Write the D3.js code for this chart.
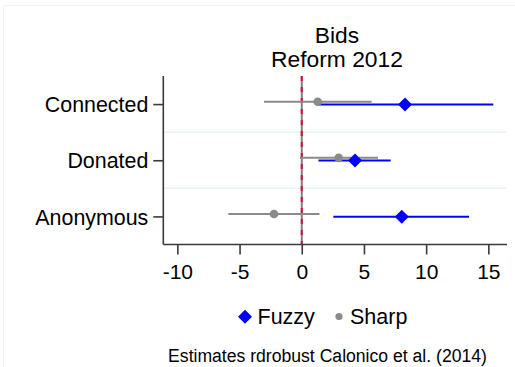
<!DOCTYPE html>
<html>
<head>
<meta charset="utf-8">
<script src="https://cdn.jsdelivr.net/npm/d3@7"></script>
<style>
  html, body { margin: 0; padding: 0; background: #fff; }
  svg { display: block; font-family: "Liberation Sans", Arial, sans-serif; }
</style>
</head>
<body>
<svg id="chart" width="515" height="367"></svg>
<script>
// Outcome groups (top to bottom)
const categories = ["Connected", "Donated", "Anonymous"];

// Fuzzy RD estimates with confidence bounds
const fuzzyEst = [8.3, 4.28, 8.04];
const fuzzyLo  = [1.34, 1.34, 2.54];
const fuzzyHi  = [15.4, 7.15, 13.45];

// Sharp RD estimates with confidence bounds
const sharpEst = [1.28, 2.97, -2.23];
const sharpLo  = [-3.03, -0.14, -5.9];
const sharpHi  = [5.62, 6.13, 1.42];

const xTicks = [-10, -5, 0, 5, 10, 15];
const titleLines = ["Bids", "Reform 2012"];
const legendLabels = ["Fuzzy", "Sharp"];
const note = "Estimates rdrobust Calonico et al. (2014)";

const svg = d3.select("#chart");
const plot = { left: 163.3, right: 507, top: 76, bottom: 244.5 };

const x = d3.scaleLinear().domain([-11.13, 16.5]).range([plot.left, plot.right]);
const y = d3.scalePoint().domain(categories).range([plot.top, plot.bottom]).padding(0.5);

const blue = "#0000ff", gray = "#8a8a8a", axisCol = "#3a3a3a";

// faint outer frame
svg.append("rect").attr("x", 3.5).attr("y", 5.5).attr("width", 520).attr("height", 400)
  .attr("fill", "none").attr("stroke", "#f2f2f2");

// separators between groups
const seps = categories.slice(0, -1).map((c, i) => (y(c) + y(categories[i + 1])) / 2);
svg.selectAll(".sep").data(seps).join("line")
  .attr("x1", plot.left).attr("x2", plot.right)
  .attr("y1", d => d).attr("y2", d => d)
  .attr("stroke", "#e8f1f2").attr("stroke-width", 1.5);

// zero reference line: gray base with red dashes
svg.append("line").attr("x1", x(0)).attr("x2", x(0)).attr("y1", plot.top).attr("y2", plot.bottom)
  .attr("stroke", "#808080").attr("stroke-width", 2);
svg.append("line").attr("x1", x(0)).attr("x2", x(0)).attr("y1", plot.top).attr("y2", plot.bottom)
  .attr("stroke", "#d0103a").attr("stroke-width", 2).attr("stroke-dasharray", "5,6");

// axes
const xAxis = svg.append("g").attr("transform", `translate(0,${plot.bottom})`)
  .call(d3.axisBottom(x).tickValues(xTicks).tickSize(10).tickPadding(10)
    .tickFormat(d => String(d)));
xAxis.select(".domain").attr("d", `M${plot.left},0H${plot.right}`);
const yAxis = svg.append("g").attr("transform", `translate(${plot.left},0)`)
  .call(d3.axisLeft(y).tickSize(10).tickPadding(5));
yAxis.select(".domain").attr("d", `M0,${plot.top}V${plot.bottom}`);

[xAxis, yAxis].forEach(g => {
  g.selectAll(".domain, .tick line").attr("stroke", axisCol).attr("stroke-width", 1.6);
  g.selectAll("text").attr("fill", "#000").style("font-family", "'Liberation Sans', Arial, sans-serif");
});
xAxis.selectAll("text").attr("font-size", 21);
yAxis.selectAll("text").attr("font-size", 21.4).attr("dy", "0.36em");

const fuzzy = categories.map((c, i) => ({ c, est: fuzzyEst[i], lo: fuzzyLo[i], hi: fuzzyHi[i] }));
const sharp = categories.map((c, i) => ({ c, est: sharpEst[i], lo: sharpLo[i], hi: sharpHi[i] }));
const fuzzyOff = 0.3, sharpOff = -2.4;

// sharp intervals
svg.selectAll(".sharpCI").data(sharp).join("line")
  .attr("x1", d => x(d.lo)).attr("x2", d => x(d.hi))
  .attr("y1", d => y(d.c) + sharpOff).attr("y2", d => y(d.c) + sharpOff)
  .attr("stroke", gray).attr("stroke-width", 2);

// fuzzy intervals
svg.selectAll(".fuzzyCI").data(fuzzy).join("line")
  .attr("x1", d => x(d.lo)).attr("x2", d => x(d.hi))
  .attr("y1", d => y(d.c) + fuzzyOff).attr("y2", d => y(d.c) + fuzzyOff)
  .attr("stroke", blue).attr("stroke-width", 2);

// sharp point estimates
svg.selectAll(".sharpPt").data(sharp).join("circle")
  .attr("cx", d => x(d.est)).attr("cy", d => y(d.c) + sharpOff).attr("r", 4.3)
  .attr("fill", gray);

// fuzzy point estimates (diamonds)
const diamond = (cx, cy, r) => `M${cx},${cy - r}L${cx + r},${cy}L${cx},${cy + r}L${cx - r},${cy}Z`;
svg.selectAll(".fuzzyPt").data(fuzzy).join("path")
  .attr("d", d => diamond(x(d.est), y(d.c) + fuzzyOff, 7))
  .attr("fill", blue);

// title (two lines)
svg.selectAll(".title").data(titleLines).join("text")
  .attr("x", 337).attr("y", (d, i) => 43 + i * 23.8)
  .attr("text-anchor", "middle").attr("font-size", 22.8).attr("fill", "#000").text(d => d);

// legend
const leg = svg.append("g");
leg.append("path").attr("d", diamond(245, 316.7, 7)).attr("fill", blue);
leg.append("text").attr("x", 257.5).attr("y", 324).attr("font-size", 21.5).text(legendLabels[0]);
leg.append("circle").attr("cx", 339).attr("cy", 316.5).attr("r", 3.6).attr("fill", gray);
leg.append("text").attr("x", 350).attr("y", 324).attr("font-size", 21.5).text(legendLabels[1]);

// note
svg.append("text").attr("x", 327.5).attr("y", 362).attr("text-anchor", "middle")
  .attr("font-size", 17.6).attr("fill", "#000").text(note);
</script>
</body>
</html>
